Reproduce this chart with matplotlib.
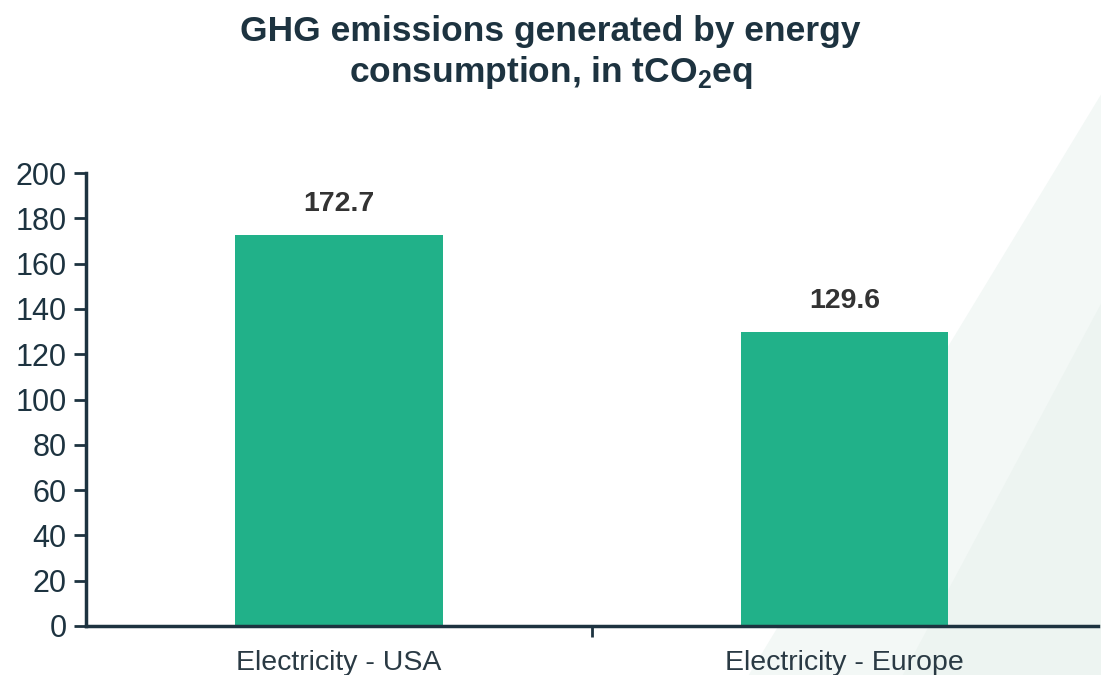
import matplotlib
matplotlib.use("Agg")
import matplotlib.pyplot as plt
from matplotlib.patches import Polygon

# emissions per source, tCO2eq
categories = ["Electricity - USA", "Electricity - Europe"]
emissions = [172.7, 129.6]
y_ticks = [0, 20, 40, 60, 80, 100, 120, 140, 160, 180, 200]

plt.rcParams["font.family"] = ["Liberation Sans", "DejaVu Sans"]
plt.rcParams["mathtext.fontset"] = "custom"
plt.rcParams["mathtext.rm"] = "Liberation Sans"
plt.rcParams["mathtext.bf"] = "Liberation Sans:bold"

dark = "#1d3340"
bar_color = "#21b189"

fig = plt.figure(figsize=(11.01, 6.75), dpi=100)

# pale diagonal wash in the lower right corner, behind the axes
fig.patches.append(Polygon([(1.0, 0.86), (0.68, 0.0), (1.0, 0.0)], closed=True,
                           transform=fig.transFigure, facecolor="#f3f8f6",
                           edgecolor="none", zorder=0))
fig.patches.append(Polygon([(1.0, 0.55), (0.82, 0.0), (1.0, 0.0)], closed=True,
                           transform=fig.transFigure, facecolor="#edf4f1",
                           edgecolor="none", zorder=0))

ax = fig.add_axes([0.078, 0.0726, 0.919, 0.671])
ax.set_zorder(2)
ax.patch.set_alpha(0)

x = list(range(len(categories)))
bars = ax.bar(x, emissions, width=0.41, color=bar_color, zorder=2)

for rect, val in zip(bars, emissions):
    ax.annotate(f"{val}", (rect.get_x() + rect.get_width() / 2, val),
                xytext=(0, 13), textcoords="offset points", ha="center",
                va="bottom", fontsize=20.5, fontweight="bold", color="#333333")

ax.set_xlim(-0.5, 1.5)
ax.set_ylim(0, 200)
ax.set_yticks(y_ticks)
ax.tick_params(axis="y", labelsize=22, labelcolor=dark, color=dark,
               length=9, width=2, pad=5)
ax.set_xticks(x)
ax.set_xticklabels(categories)
ax.tick_params(axis="x", which="major", length=0, labelsize=20.5,
               labelcolor="#2a3a44", pad=17)
ax.set_xticks([0.5], minor=True)
ax.tick_params(axis="x", which="minor", length=8, width=2, color=dark)

for side in ["top", "right"]:
    ax.spines[side].set_visible(False)
for side in ["left", "bottom"]:
    ax.spines[side].set_color(dark)
    ax.spines[side].set_linewidth(2.5)

fig.text(0.5, 0.953, "GHG emissions generated by energy", ha="center",
         va="center", fontsize=25.5, fontweight="bold", color=dark)
fig.text(0.5, 0.893, r"consumption, in tCO$_\mathbf{2}$eq", ha="center",
         va="center", fontsize=25.5, fontweight="bold", color=dark)

fig.savefig("out.png", dpi=100)
